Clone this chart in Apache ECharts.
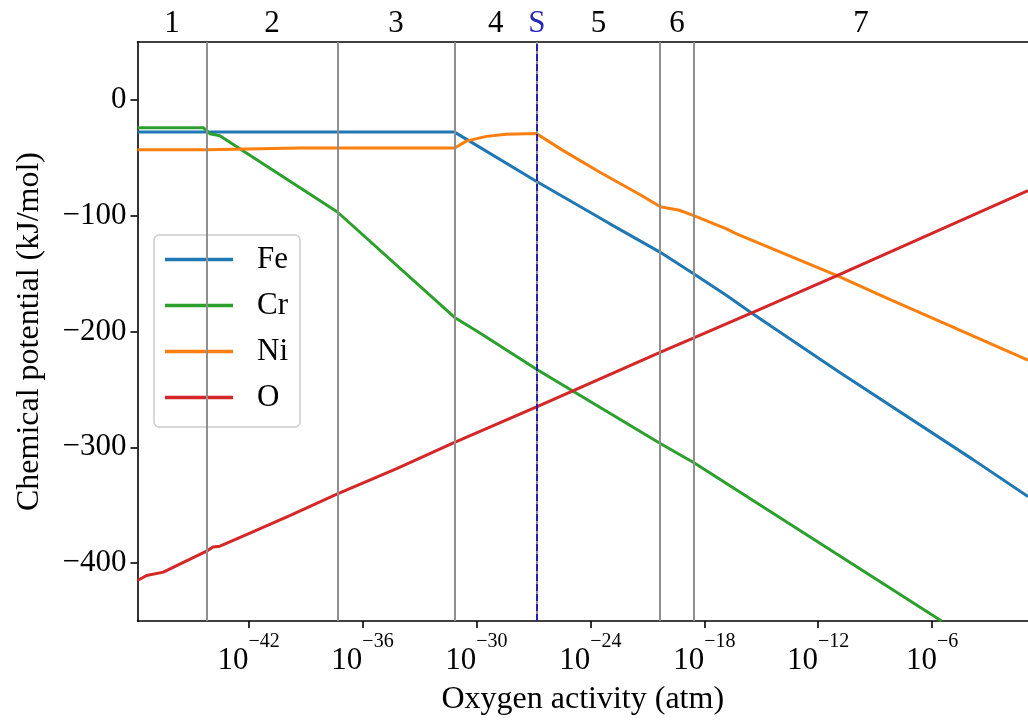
<!DOCTYPE html>
<html>
<head>
<meta charset="utf-8">
<script src="https://cdn.jsdelivr.net/npm/echarts@6/dist/echarts.min.js"></script>
<style>
  html, body { margin: 0; padding: 0; background: #ffffff; }
  #chart { width: 1028px; height: 723px; }
</style>
</head>
<body>
<div id="chart"></div>
<script>
// x values are log10 of the oxygen activity (atm); y values are kJ/mol.
const xMin = -47.85;
const xMax = -0.95;

const feX = [-47.85, -31.15, -26.85, -22.99, -20.36, -18.52, -16.86, -15.47, -10.90, -3.90, -0.95];
const feY = [-27.8, -27.8, -70.3, -106.8, -131.2, -150.5, -168.5, -184.5, -235.0, -310.0, -342.6];

const crX = [-47.85, -44.39, -44.04, -43.51, -42.46, -37.32, -31.15, -29.92, -26.77, -20.36, -18.52, -5.50];
const crY = [-24.0, -24.0, -29.2, -30.9, -42.1, -96.8, -187.9, -200.2, -233.2, -296.3, -313.6, -450.0];

const niX = [-47.85, -44.21, -39.30, -31.15, -30.53, -29.48, -28.43, -26.85, -25.45, -23.52, -21.42, -20.31, -19.31, -18.52, -16.86, -16.33, -11.07, -8.44, -0.95];
const niY = [-43.0, -43.0, -41.6, -41.6, -35.6, -31.5, -29.6, -29.0, -43.6, -62.3, -81.5, -92.3, -95.3, -100.2, -111.1, -115.4, -151.3, -170.8, -224.8];

const oX = [-47.85, -47.37, -46.49, -44.21, -43.88, -43.51, -42.11, -39.83, -37.32, -34.20, -31.15, -26.77, -20.36, -18.52, -15.47, -11.07, -0.95];
const oY = [-415.0, -410.7, -407.8, -389.7, -386.0, -385.4, -375.4, -359.0, -340.3, -318.5, -295.8, -264.6, -218.3, -205.3, -183.8, -152.2, -78.4];

// Phase-field boundaries and the marked composition S
const boundaryX = [-44.21, -37.32, -31.15, -20.33, -18.54];
const sX = -26.82;
const regionNames = ['1', '2', '3', '4', 'S', '5', '6', '7'];

// Tick labels
const xTickExponents = [-42, -36, -30, -24, -18, -12, -6];
const yTicks = [0, -100, -200, -300, -400];

// Region label positions: midpoints between consecutive boundaries, S on its line
const edges = [xMin, boundaryX[0], boundaryX[1], boundaryX[2], sX, boundaryX[3], boundaryX[4], xMax];
const regionPos = [];
for (let i = 0; i < 4; i++) regionPos.push((edges[i] + edges[i + 1]) / 2);
regionPos.push(sX);
for (let i = 4; i < 7; i++) regionPos.push((edges[i] + edges[i + 1]) / 2);

const FONT = 'Liberation Serif';
const minus = (s) => String(s).replace('-', '\u2212');
const zip = (xs, ys) => xs.map((x, i) => [x, ys[i]]);

function curve(name, xs, ys, color) {
  return {
    name: name,
    type: 'line',
    data: zip(xs, ys),
    showSymbol: false,
    symbol: 'none',
    clip: true,
    z: 3,
    itemStyle: { color: color },
    lineStyle: { color: color, width: 3 },
    emphasis: { disabled: true }
  };
}

const chart = echarts.init(document.getElementById('chart'), null, { renderer: 'canvas' });

chart.setOption({
  animation: false,
  backgroundColor: '#ffffff',
  textStyle: { fontFamily: FONT },
  grid: { left: 137.5, top: 42, width: 891.5, height: 579, containLabel: false },
  legend: {
    data: ['Fe', 'Cr', 'Ni', 'O'],
    orient: 'vertical',
    left: 154,
    top: 235,
    icon: 'rect',
    itemWidth: 68,
    itemHeight: 3.5,
    itemGap: 15,
    padding: [9, 12, 14, 11],
    backgroundColor: 'rgba(255,255,255,0.8)',
    borderColor: '#cccccc',
    borderWidth: 1.5,
    borderRadius: 5,
    textStyle: { fontFamily: FONT, fontSize: 31, color: '#000', lineHeight: 30, padding: [0, 0, 0, 19] },
    selectedMode: false
  },
  xAxis: [
    {
      type: 'value',
      min: xMin,
      max: xMax,
      position: 'bottom',
      splitLine: { show: false },
      axisLine: { show: true, onZero: false, lineStyle: { color: '#000', width: 1.6 } },
      axisTick: { show: true, customValues: xTickExponents, length: 7, lineStyle: { color: '#000', width: 1.6 } },
      axisLabel: {
        customValues: xTickExponents,
        margin: 11,
        formatter: (v) => '{b|10}{e|' + minus(Math.round(v)) + '}',
        rich: {
          b: { fontFamily: FONT, fontSize: 31, color: '#000', lineHeight: 44, verticalAlign: 'bottom' },
          e: { fontFamily: FONT, fontSize: 20, color: '#000', lineHeight: 16, verticalAlign: 'top' }
        }
      },
      name: 'Oxygen activity (atm)',
      nameLocation: 'middle',
      nameGap: 63,
      nameTextStyle: { fontFamily: FONT, fontSize: 32, color: '#000' }
    },
    {
      type: 'value',
      min: xMin,
      max: xMax,
      position: 'top',
      splitLine: { show: false },
      axisLine: { show: true, onZero: false, lineStyle: { color: '#000', width: 1.6 } },
      axisTick: { show: false },
      axisLabel: {
        customValues: regionPos,
        margin: 3,
        formatter: (v) => {
          let idx = 0, best = Infinity;
          regionPos.forEach((p, i) => { const d = Math.abs(p - v); if (d < best) { best = d; idx = i; } });
          const n = regionNames[idx];
          return n === 'S' ? '{s|S}' : '{t|' + n + '}';
        },
        rich: {
          t: { fontFamily: FONT, fontSize: 31, color: '#000' },
          s: { fontFamily: FONT, fontSize: 31, color: '#2626b8' }
        }
      }
    }
  ],
  yAxis: {
    type: 'value',
    min: -450,
    max: 50,
    splitLine: { show: false },
    axisLine: { show: true, onZero: false, lineStyle: { color: '#000', width: 1.6 } },
    axisTick: { show: true, customValues: yTicks, length: 7, lineStyle: { color: '#000', width: 1.6 } },
    axisLabel: {
      customValues: yTicks,
      margin: 11,
      fontFamily: FONT,
      fontSize: 31,
      color: '#000',
      formatter: (v) => minus(v)
    },
    name: 'Chemical potential (kJ/mol)',
    nameLocation: 'middle',
    nameGap: 92,
    nameTextStyle: { fontFamily: FONT, fontSize: 32, color: '#000' }
  },
  series: [
    {
      name: 'boundaries',
      type: 'line',
      data: [],
      z: 1,
      markLine: {
        silent: true,
        symbol: ['none', 'none'],
        label: { show: false },
        lineStyle: { color: '#8f8f8f', width: 2, type: 'solid' },
        emphasis: { disabled: true },
        data: boundaryX.concat([sX]).map((v) => ({ xAxis: v }))
      }
    },
    curve('Fe', feX, feY, '#1f77b4'),
    curve('Cr', crX, crY, '#2ca02c'),
    curve('Ni', niX, niY, '#ff7f0e'),
    curve('O', oX, oY, '#d62728'),
    {
      name: 'S',
      type: 'line',
      data: [],
      z: 4,
      markLine: {
        silent: true,
        symbol: ['none', 'none'],
        label: { show: false },
        lineStyle: { color: '#2020b4', width: 2, type: [7, 3] },
        emphasis: { disabled: true },
        data: [{ xAxis: sX }]
      }
    }
  ]
});
</script>
</body>
</html>
